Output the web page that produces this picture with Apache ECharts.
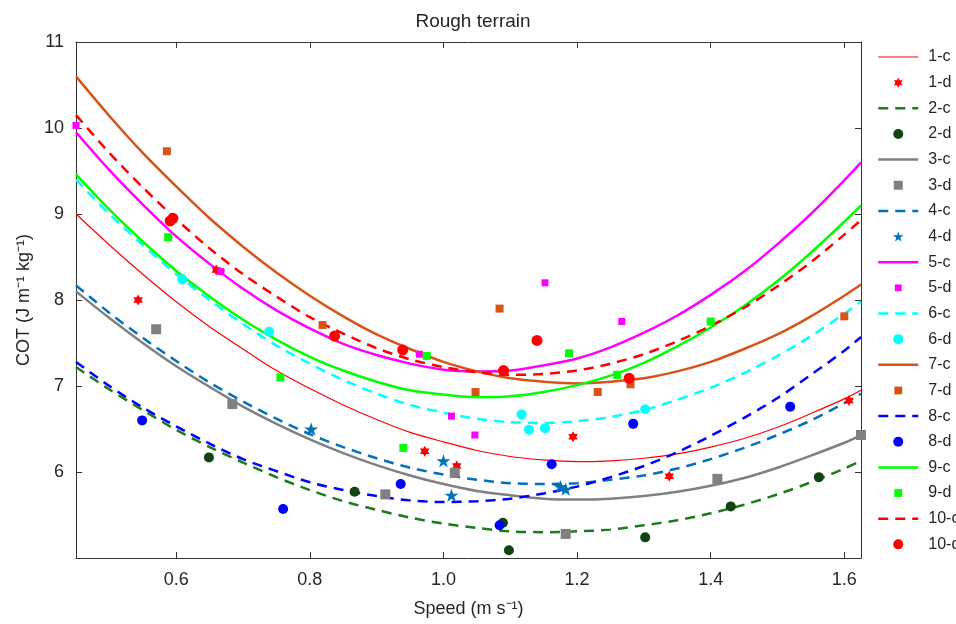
<!DOCTYPE html>
<html>
<head>
<meta charset="utf-8">
<script src="https://cdn.jsdelivr.net/npm/echarts@6/dist/echarts.min.js"></script>
<style>html,body{margin:0;padding:0;background:#fff}#chart{width:956px;height:624px}</style>
</head>
<body>
<div id="chart"></div>
<script>
// ---- data ----
const curveX = [0.45, 0.50, 0.55, 0.60, 0.65, 0.70, 0.75, 0.80, 0.85, 0.90, 0.95, 1.00, 1.05,
                1.10, 1.15, 1.20, 1.25, 1.30, 1.35, 1.40, 1.45, 1.50, 1.55, 1.60, 1.625];
const c1  = [9.00, 8.64, 8.30, 7.98, 7.69, 7.43, 7.18, 6.97, 6.78, 6.61, 6.46, 6.35, 6.25, 6.18, 6.14, 6.12, 6.13, 6.16, 6.21, 6.29, 6.39, 6.52, 6.68, 6.85, 6.95];
const c2  = [7.22, 6.96, 6.72, 6.49, 6.29, 6.11, 5.94, 5.79, 5.66, 5.56, 5.47, 5.40, 5.35, 5.31, 5.30, 5.31, 5.33, 5.38, 5.44, 5.52, 5.62, 5.74, 5.88, 6.04, 6.13];
const c3  = [8.10, 7.79, 7.50, 7.23, 6.99, 6.76, 6.56, 6.38, 6.22, 6.08, 5.96, 5.86, 5.78, 5.73, 5.69, 5.68, 5.69, 5.72, 5.77, 5.84, 5.93, 6.05, 6.19, 6.34, 6.43];
const c4  = [8.17, 7.85, 7.56, 7.29, 7.04, 6.82, 6.62, 6.44, 6.29, 6.16, 6.05, 5.97, 5.91, 5.87, 5.86, 5.87, 5.91, 5.96, 6.04, 6.15, 6.28, 6.43, 6.60, 6.80, 6.91];
const c5  = [9.95, 9.51, 9.11, 8.74, 8.42, 8.13, 7.88, 7.67, 7.49, 7.36, 7.26, 7.19, 7.17, 7.18, 7.24, 7.32, 7.45, 7.62, 7.82, 8.06, 8.33, 8.65, 9.00, 9.39, 9.60];
const c6  = [9.40, 9.00, 8.64, 8.30, 8.00, 7.72, 7.47, 7.26, 7.07, 6.91, 6.78, 6.69, 6.62, 6.58, 6.57, 6.59, 6.64, 6.72, 6.84, 6.98, 7.15, 7.35, 7.58, 7.84, 7.98];
const c7  = [10.60, 10.14, 9.71, 9.32, 8.95, 8.62, 8.32, 8.05, 7.81, 7.60, 7.43, 7.28, 7.17, 7.09, 7.05, 7.03, 7.05, 7.09, 7.17, 7.28, 7.43, 7.60, 7.81, 8.05, 8.18];
const c8  = [7.28, 7.00, 6.75, 6.53, 6.33, 6.15, 6.01, 5.88, 5.79, 5.72, 5.67, 5.65, 5.66, 5.69, 5.75, 5.83, 5.94, 6.07, 6.23, 6.42, 6.63, 6.86, 7.13, 7.41, 7.57];
const c9  = [9.46, 9.05, 8.68, 8.34, 8.04, 7.77, 7.54, 7.34, 7.18, 7.05, 6.95, 6.90, 6.87, 6.88, 6.93, 7.01, 7.12, 7.27, 7.46, 7.68, 7.93, 8.22, 8.55, 8.91, 9.10];
const c10 = [10.15, 9.71, 9.31, 8.94, 8.60, 8.30, 8.04, 7.80, 7.61, 7.44, 7.31, 7.22, 7.16, 7.13, 7.14, 7.18, 7.26, 7.37, 7.52, 7.70, 7.91, 8.16, 8.44, 8.76, 8.93];

const d1  = [[0.543, 8.00], [0.66, 8.35], [0.972, 6.24], [1.02, 6.07], [1.194, 6.41], [1.338, 5.95], [1.607, 6.83]];
const d2  = [[0.649, 6.17], [0.867, 5.77], [1.089, 5.41], [1.098, 5.09], [1.302, 5.24], [1.43, 5.60], [1.562, 5.94]];
const d3  = [[0.57, 7.66], [0.684, 6.79], [0.913, 5.74], [1.017, 5.99], [1.183, 5.28], [1.41, 5.92], [1.625, 6.43]];
const d4  = [[0.802, 6.50], [1.0, 6.13], [1.012, 5.73], [1.175, 5.83], [1.183, 5.80]];
const d5  = [[0.45, 10.03], [0.667, 8.33], [0.964, 7.37], [1.012, 6.65], [1.047, 6.43], [1.152, 8.20], [1.267, 7.75]];
const d6  = [[0.609, 8.24], [0.739, 7.63], [1.117, 6.67], [1.128, 6.49], [1.152, 6.51], [1.302, 6.73]];
const d7  = [[0.586, 9.73], [0.819, 7.71], [1.048, 6.93], [1.084, 7.90], [1.231, 6.93], [1.28, 7.02], [1.60, 7.81]];
const d8  = [[0.549, 6.60], [0.76, 5.57], [0.936, 5.86], [1.084, 5.38], [1.162, 6.09], [1.284, 6.56], [1.519, 6.76]];
const d9  = [[0.588, 8.73], [0.756, 7.10], [0.94, 6.28], [0.975, 7.35], [1.188, 7.38], [1.26, 7.13], [1.40, 7.75]];
const d10 = [[0.591, 8.92], [0.595, 8.95], [0.837, 7.58], [0.939, 7.42], [1.09, 7.18], [1.14, 7.53], [1.278, 7.09]];

const xTicks = [0.6, 0.8, 1.0, 1.2, 1.4, 1.6];
const yTicks = [6, 7, 8, 9, 10, 11];

// ---- styling ----
const FONT = 'Liberation Sans, Arial, Helvetica, sans-serif';
const TXT = '#262626';
const HEX = 'path://M10 0L12.885 5L18.66 5L15.77 10L18.66 15L12.885 15L10 20L7.115 15L1.34 15L4.23 10L1.34 5L7.115 5Z';
const STAR = 'path://M10 0L12.245 6.91L19.511 6.91L13.633 11.18L15.878 18.09L10 13.82L4.122 18.09L6.367 11.18L0.489 6.91L7.755 6.91Z';
const SQ = 'path://M0 0H10V10H0Z';
const DASH = [10, 7];

const legendData = [];
function curve(name, ys, color, width, dashed) {
  legendData.push({ name, itemStyle: { opacity: 0 }, lineStyle: { width, type: dashed ? DASH : 'solid', color } });
  return {
    name, type: 'line', data: curveX.map((x, i) => [x, ys[i]]),
    smooth: 0.3, showSymbol: false, symbol: 'none',
    lineStyle: { color, width, type: dashed ? DASH : 'solid' },
    itemStyle: { color }, emphasis: { disabled: true }, z: 2
  };
}
function pts(name, data, color, symbol, size, legendIcon) {
  const item = { name };
  if (legendIcon) item.icon = legendIcon;
  legendData.push(item);
  return {
    name, type: 'scatter', data, symbol, symbolSize: size, symbolKeepAspect: true,
    itemStyle: { color, opacity: 1 }, clip: false, emphasis: { disabled: true }, z: 3
  };
}
function padSq(p) { // square legend icon with transparent padding
  const a = p, b = 10 - p;
  return 'path://M0 0M10 10M' + a + ' ' + a + 'H' + b + 'V' + b + 'H' + a + 'Z';
}

const series = [
  curve('1-c', c1, '#FF0000', 1.2, false),
  pts('1-d', d1, '#FF0000', HEX, 11),
  curve('2-c', c2, '#1F7A1F', 2.5, true),
  pts('2-d', d2, '#124412', 'circle', 10),
  curve('3-c', c3, '#808080', 2.5, false),
  pts('3-d', d3, '#808080', SQ, 10, padSq(0.5)),
  curve('4-c', c4, '#0072BD', 2.5, true),
  pts('4-d', d4, '#0072BD', STAR, 14),
  curve('5-c', c5, '#FF00FF', 2.5, false),
  pts('5-d', d5, '#FF00FF', SQ, 7, padSq(1.6)),
  curve('6-c', c6, '#00FFFF', 2.5, true),
  pts('6-d', d6, '#00FFFF', 'circle', 10),
  curve('7-c', c7, '#D95319', 2.5, false),
  pts('7-d', d7, '#D95319', SQ, 8, padSq(1.1)),
  curve('8-c', c8, '#0000FF', 2.5, true),
  pts('8-d', d8, '#0000FF', 'circle', 10),
  curve('9-c', c9, '#00FF00', 2.5, false),
  pts('9-d', d9, '#00FF00', SQ, 8, padSq(1.1)),
  curve('10-c', c10, '#FF0000', 2.5, true),
  pts('10-d', d10, '#FF0000', 'circle', 11)
];

const axisLine = { show: true, onZero: false, lineStyle: { color: '#333', width: 1 } };
const tick = { show: true, inside: true, length: 6, lineStyle: { color: '#333' } };
const chart = echarts.init(document.getElementById('chart'), null, { renderer: 'canvas' });
chart.setOption({
  animation: false,
  backgroundColor: '#fff',
  title: {
    text: 'Rough terrain', left: 468, top: 7, textAlign: 'center',
    textStyle: { fontFamily: FONT, fontSize: 19, fontWeight: 'normal', color: TXT }
  },
  grid: { left: 76, right: 95, top: 42, bottom: 66, containLabel: false },
  legend: {
    data: legendData, orient: 'vertical', left: 872, top: 44,
    itemWidth: 40, itemHeight: 10, itemGap: 9.65,
    textStyle: { fontFamily: FONT, fontSize: 16, color: TXT, padding: [0, 0, 0, 5] },
    selectedMode: false
  },
  xAxis: [
    {
      type: 'value', min: 0.45, max: 1.625, position: 'bottom',
      axisLine, splitLine: { show: false },
      axisTick: Object.assign({ customValues: xTicks }, tick),
      axisLabel: { customValues: xTicks, formatter: v => v.toFixed(1), fontFamily: FONT, fontSize: 18, color: TXT, margin: 13 },
      name: 'Speed (m s\u207B\u00B9)', nameLocation: 'middle', nameGap: 42,
      nameTextStyle: { fontFamily: FONT, fontSize: 18, color: TXT }
    },
    {
      type: 'value', min: 0.45, max: 1.625, position: 'top',
      axisLine, splitLine: { show: false },
      axisTick: Object.assign({ customValues: xTicks }, tick),
      axisLabel: { show: false }
    }
  ],
  yAxis: [
    {
      type: 'value', min: 5, max: 11, position: 'left',
      axisLine, splitLine: { show: false },
      axisTick: Object.assign({ customValues: yTicks }, tick),
      axisLabel: { customValues: yTicks, fontFamily: FONT, fontSize: 18, color: TXT, margin: 12 },
      name: 'COT (J m\u207B\u00B9 kg\u207B\u00B9)', nameLocation: 'middle', nameGap: 40, nameRotate: 90,
      nameTextStyle: { fontFamily: FONT, fontSize: 18, color: TXT }
    },
    {
      type: 'value', min: 5, max: 11, position: 'right',
      axisLine, splitLine: { show: false },
      axisTick: Object.assign({ customValues: yTicks }, tick),
      axisLabel: { show: false }
    }
  ],
  series
});
</script>
</body>
</html>
